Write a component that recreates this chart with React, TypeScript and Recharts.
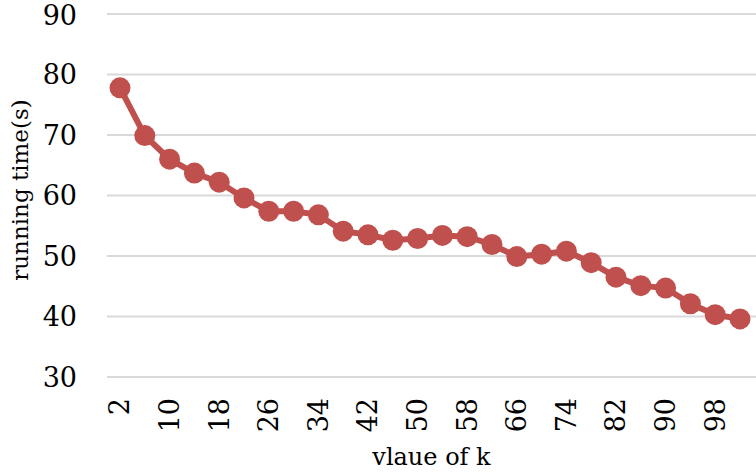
import React from "react";
import { LineChart, Line, XAxis, YAxis, CartesianGrid, Label } from "recharts";

const kValues = [2, 6, 10, 14, 18, 22, 26, 30, 34, 38, 42, 46, 50, 54, 58, 62, 66, 70, 74, 78, 82, 86, 90, 94, 98, 102];
const runningTime = [77.8, 69.9, 66.0, 63.7, 62.2, 59.6, 57.4, 57.4, 56.8, 54.1, 53.5, 52.6, 52.9, 53.4, 53.2, 51.9, 49.9, 50.3, 50.8, 48.9, 46.5, 45.1, 44.7, 42.1, 40.3, 39.6];
const yTicks = [30, 40, 50, 60, 70, 80, 90];

const data = kValues.map((k, i) => ({ k: String(k), t: runningTime[i] }));

const FONT = "'DejaVu Serif', serif";

const XTick = (props: any) => {
  const { x, y, payload } = props;
  return (
    <text
      x={x}
      y={y}
      transform={`rotate(-90 ${x} ${y})`}
      textAnchor="end"
      dy="0.35em"
      fontSize={27}
      fontFamily={FONT}
      fill="#000"
    >
      {payload.value}
    </text>
  );
};

export default function App() {
  return (
    <div style={{ position: "absolute", left: 0, top: 0, background: "#fff" }}>
      <LineChart
        width={756}
        height={473}
        data={data}
        margin={{ top: 14, right: 0, left: 0, bottom: 0 }}
      >
        <CartesianGrid horizontal={true} vertical={false} stroke="#D9D9D9" strokeWidth={2} />
        <XAxis
          dataKey="k"
          interval={1}
          height={96}
          axisLine={false}
          tickLine={false}
          tickSize={0}
          tickMargin={21}
          padding={{ left: 13, right: 16 }}
          tick={<XTick />}
        >
          <Label
            value="vlaue of k"
            position="insideBottom"
            offset={8}
            fontSize={24}
            fontFamily={FONT}
            fill="#000"
          />
        </XAxis>
        <YAxis
          domain={[30, 90]}
          ticks={yTicks}
          width={107}
          axisLine={false}
          tickLine={false}
          tickSize={0}
          tickMargin={30}
          tick={{ fontSize: 27, fontFamily: FONT, fill: "#000" }}
        >
          <Label
            content={() => (
              <text
                x={20}
                y={190}
                transform="rotate(-90 20 190)"
                textAnchor="middle"
                dy="0.35em"
                fontSize={23}
                fontFamily={FONT}
                fill="#000"
              >
                running time(s)
              </text>
            )}
          />
        </YAxis>
        <Line
          type="linear"
          dataKey="t"
          stroke="#C0504D"
          strokeWidth={6}
          dot={{ r: 10.5, fill: "#C0504D", stroke: "none" }}
          activeDot={false}
          isAnimationActive={false}
        />
      </LineChart>
    </div>
  );
}
